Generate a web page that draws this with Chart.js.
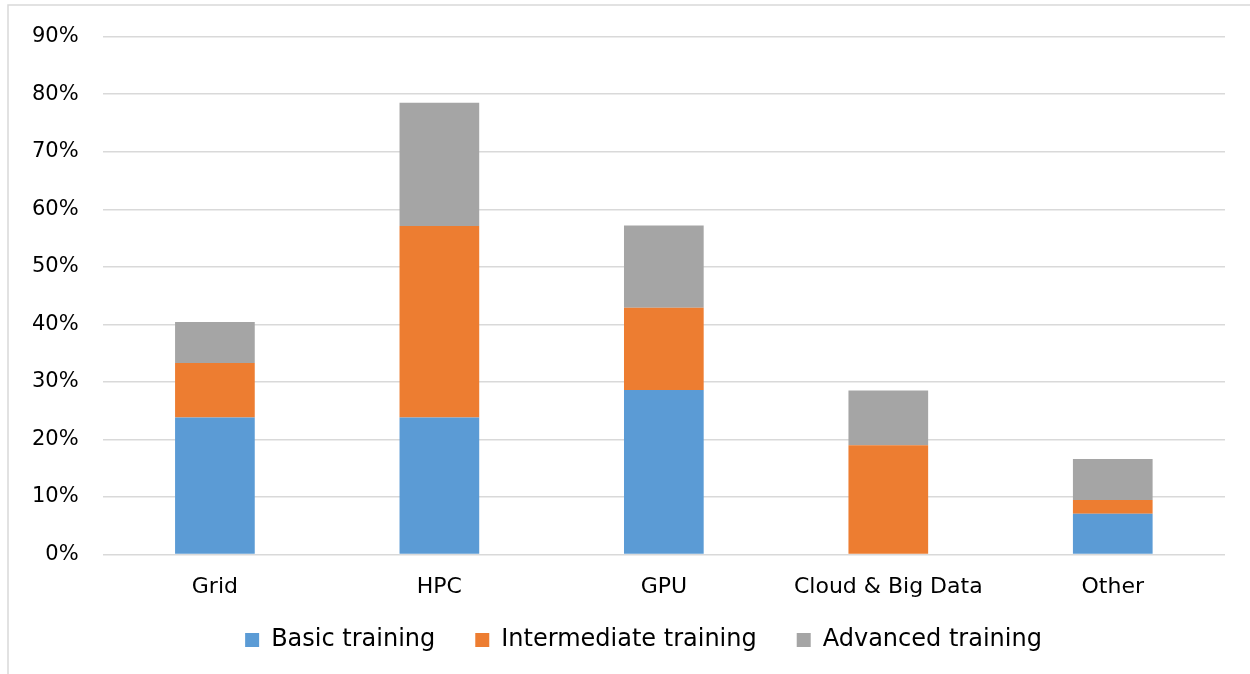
<!DOCTYPE html>
<html>
<head>
<meta charset="utf-8">
<script src="https://cdn.jsdelivr.net/npm/chart.js"></script>
<style>
  html, body { margin: 0; padding: 0; background: #fff; }
  #wrap { position: relative; width: 1250px; height: 674px; }
</style>
</head>
<body>
<div id="wrap"><canvas id="trainingChart"></canvas></div>
<script>
const categories = ['Grid', 'HPC', 'GPU', 'Cloud & Big Data', 'Other'];
const basic = [23.8, 23.8, 28.6, 0, 7.1];
const intermediate = [9.5, 33.3, 14.3, 19.0, 2.4];
const advanced = [7.1, 21.4, 14.3, 9.5, 7.1];

// thin grey frame, only left and top edges are visible in the original
const frame = {
    id: 'frame',
    beforeDraw(chart) {
        const c = chart.ctx;
        c.save();
        c.strokeStyle = '#d9d9d9';
        c.lineWidth = 1.5;
        c.beginPath();
        c.moveTo(8, 674);
        c.lineTo(8, 5);
        c.lineTo(1250, 5);
        c.stroke();
        c.restore();
    }
};

// nudge the legend a bit up and right, like the original
const legendShift = {
    id: 'legendShift',
    afterLayout(chart) {
        const lg = chart.legend;
        lg.top -= 31; lg.bottom -= 31;
        lg.left += 27; lg.right += 27;
    }
};

const ctx = document.getElementById('trainingChart').getContext('2d');
new Chart(ctx, {
    type: 'bar',
    data: {
        labels: categories,
        datasets: [
            { label: 'Basic training', data: basic, backgroundColor: '#5b9bd5' },
            { label: 'Intermediate training', data: intermediate, backgroundColor: '#ed7d31' },
            { label: 'Advanced training', data: advanced, backgroundColor: '#a5a5a5' }
        ]
    },
    options: {
        responsive: true,
        maintainAspectRatio: false,
        animation: false,
        datasets: { bar: { barPercentage: 0.355, categoryPercentage: 1 } },
        layout: { padding: { left: 8, right: 25, top: 34, bottom: -19 } },
        scales: {
            x: {
                stacked: true,
                grid: { display: false, drawTicks: false },
                border: { display: false },
                ticks: { color: '#000', font: { family: 'DejaVu Sans', size: 22 }, padding: 19 }
            },
            y: {
                stacked: true,
                min: 0,
                max: 90,
                grid: { color: '#d9d9d9', lineWidth: 1.5, drawTicks: false },
                border: { display: false },
                ticks: {
                    stepSize: 10,
                    color: '#000',
                    font: { family: 'DejaVu Sans', size: 21 },
                    padding: 24,
                    callback: v => v + '%'
                }
            }
        },
        plugins: {
            legend: {
                position: 'bottom',
                labels: {
                    color: '#000',
                    font: { family: 'DejaVu Sans', size: 24 },
                    boxWidth: 14,
                    boxHeight: 14,
                    padding: 40
                }
            },
            tooltip: { enabled: false }
        }
    },
    plugins: [frame, legendShift]
});
</script>
</body>
</html>
